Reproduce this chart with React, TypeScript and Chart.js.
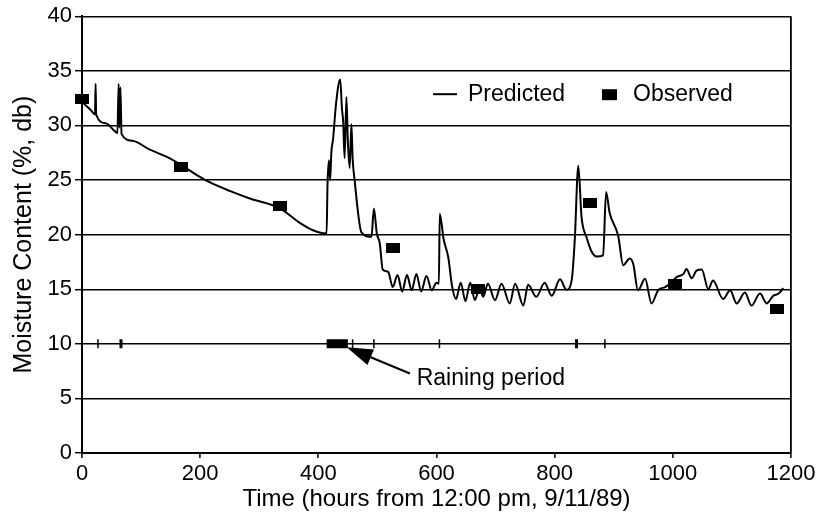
import React, { useEffect, useRef } from 'react';
import { Chart, registerables } from 'chart.js';

Chart.register(...registerables);

// ---------- data ----------
const predHours = [
  0, 5, 15, 22, 23, 24, 40, 55, 60, 62, 63.5, 65, 67, 85, 114, 148, 193, 216, 250, 284,
  335, 368, 391, 414, 415.5, 418, 420, 422, 425, 430, 437, 440, 442, 444.5, 447.5, 450, 453, 456, 458, 461,
  473, 490, 494, 499, 504, 509, 518, 526, 534, 542, 550, 558, 566, 574, 583, 592, 600, 604, 605.5, 612,
  620, 626, 633, 641, 649, 657, 665, 673, 679, 687, 699, 710, 724, 733, 747, 755, 769, 783, 795, 809,
  820, 829, 834, 840, 845.5, 854, 862, 871, 882, 887, 893, 907.5, 916, 927, 933, 941, 953, 964, 975, 987,
  995, 1006, 1018, 1023, 1032, 1040, 1049, 1060, 1068, 1085, 1097, 1108, 1122, 1133, 1147.5, 1159, 1170, 1179, 1187,
];
const predValues = [
  32.2, 31.9, 31.4, 31.0, 33.8, 31.0, 30.2, 29.5, 29.3, 33.8, 29.8, 33.5, 29.2, 28.6, 27.8, 27.0, 25.5, 24.8, 24.0, 23.3,
  22.4, 21.1, 20.4, 20.1, 24.5, 26.8, 25.0, 27.5, 28.8, 32.0, 34.2, 31.5, 30.4, 27.0, 32.6, 28.5, 26.1, 30.1, 27.0, 25.2,
  20.2, 19.8, 22.4, 20.1, 19.2, 16.8, 16.6, 15.2, 16.3, 14.8, 16.3, 14.9, 16.4, 14.8, 16.2, 14.9, 15.6, 15.5, 21.9, 19.6,
  17.9, 15.4, 14.1, 15.6, 13.9, 15.6, 14.0, 15.2, 14.3, 15.5, 14.0, 15.5, 13.7, 15.5, 13.5, 15.4, 14.3, 15.6, 14.4, 15.9,
  14.95, 15.9, 19.5, 26.3, 21.6, 19.75, 18.5, 18.0, 18.1, 23.9, 22.0, 19.9, 17.2, 17.8, 17.3, 14.9, 15.95, 13.7, 14.9, 15.2,
  15.5, 16.1, 16.4, 16.85, 16.0, 16.7, 16.8, 15.0, 15.8, 14.1, 14.9, 13.7, 14.7, 13.5, 14.6, 13.7, 14.4, 14.6, 15.1,
];

const obsHours = [0, 167, 335, 526, 671, 860, 1003, 1176];
const obsValues = [32.4, 26.2, 22.6, 18.8, 15.0, 22.9, 15.5, 13.15];

const rainLevel = 10;
const rainThinHours = [27, 458, 494, 605, 885];
const rainThickHours = [66, 837];
const rainBlockHours = [414, 450];

const xMin = 0;
const xMax = 1200;
const xStep = 200;
const yMin = 0;
const yMax = 40;
const yStep = 5;

const xTitle = 'Time (hours from 12:00 pm, 9/11/89)';
const yTitle = 'Moisture Content (%, db)';
const predLabel = 'Predicted';
const obsLabel = 'Observed';
const rainLabel = 'Raining period';

// annotation anchor points (data coordinates)
const arrowTip = { x: 448, y: 9.68 };
const arrowTail = { x: 555, y: 7.28 };
const rainLabelPos = { x: 566.5, y: 6.85 };

const FONT = "'Liberation Sans', Arial, Helvetica, sans-serif";

function makeRectPoint(w: number, h: number) {
  const c = document.createElement('canvas');
  c.width = w;
  c.height = h;
  const g = c.getContext('2d')!;
  g.fillStyle = '#000';
  g.fillRect(0, 0, w, h);
  return c;
}

const annotationPlugin = {
  id: 'customAnnotations',
  afterDatasetsDraw(chart: any) {
    const { ctx, chartArea } = chart;
    const xs = chart.scales.x;
    const ys = chart.scales.y;
    ctx.save();
    // legend
    const ly = chartArea.top + 78;
    ctx.strokeStyle = '#000';
    ctx.lineWidth = 2;
    ctx.beginPath();
    ctx.moveTo(chartArea.left + 351, ly);
    ctx.lineTo(chartArea.left + 375, ly);
    ctx.stroke();
    ctx.fillStyle = '#000';
    ctx.font = `23px ${FONT}`;
    ctx.textBaseline = 'middle';
    ctx.textAlign = 'left';
    ctx.fillText(predLabel, chartArea.left + 386, ly);
    ctx.fillRect(chartArea.left + 520, ly - 5, 15, 11);
    ctx.fillText(obsLabel, chartArea.left + 551, ly);

    // arrow
    const tx = xs.getPixelForValue(arrowTip.x);
    const ty = ys.getPixelForValue(arrowTip.y);
    const ex = xs.getPixelForValue(arrowTail.x);
    const ey = ys.getPixelForValue(arrowTail.y);
    const ang = Math.atan2(ty - ey, tx - ex);
    const L = 26;
    const W = 8.5;
    const bx = tx - L * Math.cos(ang);
    const by = ty - L * Math.sin(ang);
    ctx.lineWidth = 2;
    ctx.beginPath();
    ctx.moveTo(ex, ey);
    ctx.lineTo(bx, by);
    ctx.stroke();
    ctx.beginPath();
    ctx.moveTo(tx, ty);
    ctx.lineTo(bx + W * Math.sin(ang), by - W * Math.cos(ang));
    ctx.lineTo(bx - W * Math.sin(ang), by + W * Math.cos(ang));
    ctx.closePath();
    ctx.fill();

    ctx.font = `23px ${FONT}`;
    ctx.fillText(rainLabel, xs.getPixelForValue(rainLabelPos.x), ys.getPixelForValue(rainLabelPos.y));
    ctx.restore();
  },
};

export default function App() {
  const ref = useRef<HTMLCanvasElement | null>(null);
  useEffect(() => {
    const canvas = ref.current!;
    const obsPoint = makeRectPoint(14, 10);
    const chart = new Chart(canvas, {
      type: 'line',
      data: {
        datasets: [
          {
            label: predLabel,
            data: predHours.map((h, i) => ({ x: h, y: predValues[i] })),
            borderColor: '#000',
            borderWidth: 2,
            pointRadius: 0,
            cubicInterpolationMode: 'monotone',
            borderJoinStyle: 'round',
            fill: false,
          },
          {
            label: obsLabel,
            data: obsHours.map((h, i) => ({ x: h, y: obsValues[i] })),
            showLine: false,
            pointStyle: obsPoint as any,
            pointRadius: 7,
            borderColor: '#000',
            backgroundColor: '#000',
            clip: false,
          },
          {
            label: 'rain block',
            data: rainBlockHours.map((h) => ({ x: h, y: rainLevel })),
            borderColor: '#000',
            borderWidth: 9,
            borderCapStyle: 'butt',
            pointRadius: 0,
            fill: false,
          },
          {
            label: 'rain thin',
            data: rainThinHours.map((h) => ({ x: h, y: rainLevel })),
            showLine: false,
            pointStyle: 'line',
            rotation: 90,
            pointRadius: 4.5,
            pointBorderWidth: 1.5,
            borderColor: '#000',
            backgroundColor: '#000',
          },
          {
            label: 'rain thick',
            data: rainThickHours.map((h) => ({ x: h, y: rainLevel })),
            showLine: false,
            pointStyle: 'line',
            rotation: 90,
            pointRadius: 4.5,
            pointBorderWidth: 3,
            borderColor: '#000',
            backgroundColor: '#000',
          },
        ],
      },
      options: {
        responsive: false,
        animation: false,
        devicePixelRatio: 1,
        events: [],
        layout: { padding: { top: 15, right: 36, left: 0, bottom: 0 } },
        plugins: {
          legend: { display: false },
          tooltip: { enabled: false },
          title: { display: false },
        },
        scales: {
          x: {
            type: 'linear',
            min: xMin,
            max: xMax,
            ticks: {
              stepSize: xStep,
              color: '#000',
              padding: 3,
              font: { family: FONT, size: 22 },
              maxRotation: 0,
              callback: (v: any) => String(v),
            },
            grid: {
              drawOnChartArea: true,
              color: (c: any) => (c.tick && c.tick.value === xMax ? '#000' : 'rgba(0,0,0,0)'),
              lineWidth: 1.8,
              tickColor: '#000',
              tickLength: 5,
              tickWidth: 1.5,
            },
            border: { display: true, color: '#000', width: 2 },
            title: {
              display: true,
              text: xTitle,
              color: '#000',
              font: { family: FONT, size: 24, lineHeight: 1 },
              padding: { top: 0, bottom: 5 },
            },
            afterFit: (s: any) => {
              s.height = 63;
            },
          },
          y: {
            type: 'linear',
            min: yMin,
            max: yMax,
            ticks: {
              stepSize: yStep,
              color: '#000',
              padding: 3,
              font: { family: FONT, size: 22 },
              callback: (v: any) => String(v),
            },
            grid: {
              color: '#000',
              lineWidth: 1.4,
              tickColor: '#000',
              tickLength: 7,
              tickWidth: 1.5,
            },
            border: { display: true, color: '#000', width: 2 },
            title: {
              display: true,
              text: yTitle,
              color: '#000',
              font: { family: FONT, size: 25, lineHeight: 1 },
              padding: { top: 12, bottom: 0 },
            },
            afterFit: (s: any) => {
              s.width = 82;
            },
          },
        },
      },
      plugins: [annotationPlugin],
    } as any);
    return () => chart.destroy();
  }, []);
  return (
    <canvas
      ref={ref}
      width={827}
      height={516}
      style={{ position: 'fixed', left: 0, top: 0, width: 827, height: 516, display: 'block', background: '#fff' }}
    />
  );
}
